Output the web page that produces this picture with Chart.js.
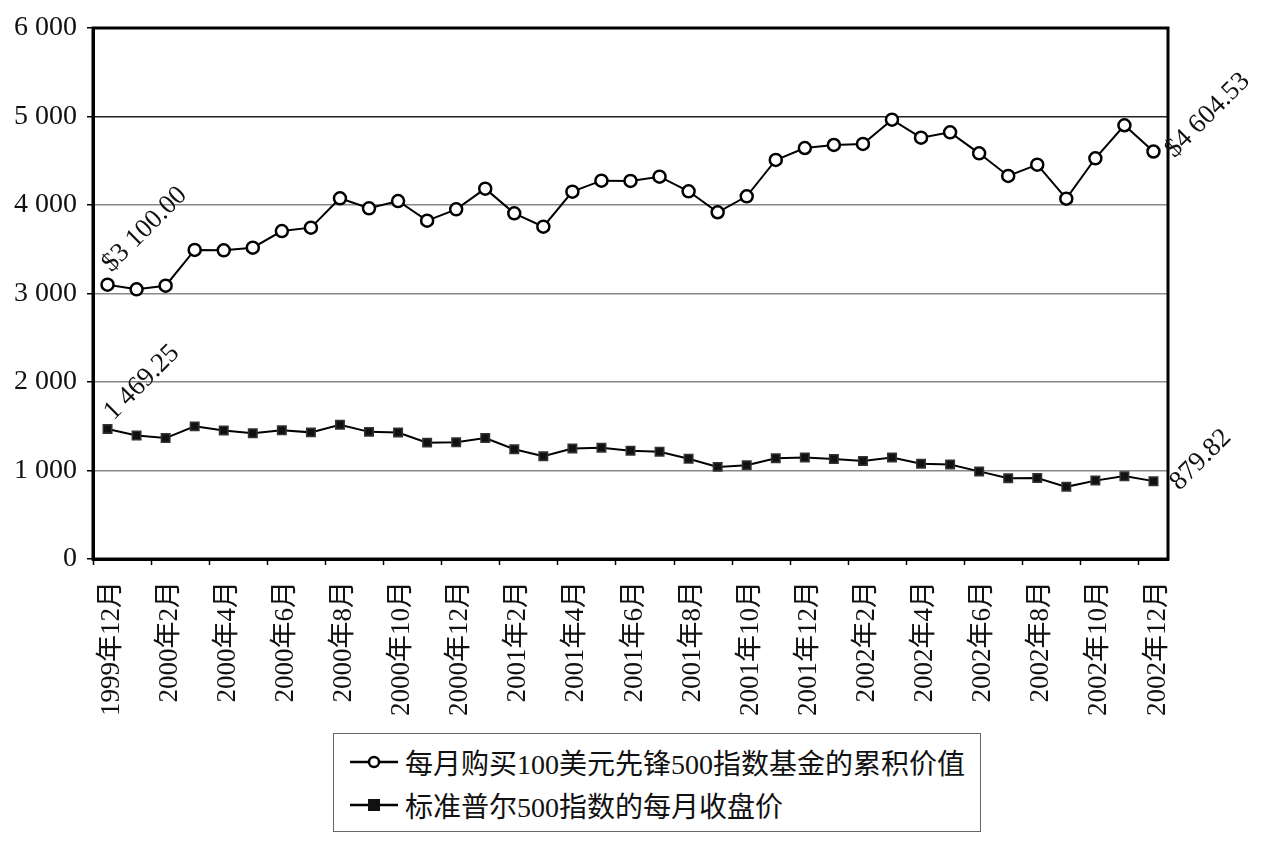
<!DOCTYPE html>
<html>
<head>
<meta charset="utf-8">
<script src="https://cdn.jsdelivr.net/npm/chart.js@4"></script>
<style>
  body { margin: 0; background: #fff; }
  #wrap { position: relative; width: 1267px; height: 842px; }
  #legendBox {
    position: absolute; left: 333px; top: 733px; width: 646px; height: 97px;
    border: 1px solid #666; background: #fff;
    font-family: "Liberation Serif", "Noto Sans CJK SC", serif; font-size: 28px; color: #111;
  }
  .row { position: absolute; left: 14px; height: 34px; display: flex; align-items: center; white-space: nowrap; }
  .row svg { margin-right: 5px; }
</style>
</head>
<body>
<div id="wrap">
  <canvas id="chart" width="1267" height="842"></canvas>
  <div id="legendBox">
    <div class="row" style="top:11px">
      <svg width="52" height="20"><line x1="2" y1="10" x2="50" y2="10" stroke="#000" stroke-width="2.5"/><circle cx="26" cy="10" r="5" fill="#fff" stroke="#000" stroke-width="2.5"/></svg>
      <span>每月购买100美元先锋500指数基金的累积价值</span>
    </div>
    <div class="row" style="top:54px">
      <svg width="52" height="20"><line x1="2" y1="10" x2="50" y2="10" stroke="#000" stroke-width="2.5"/><rect x="20" y="4" width="12" height="12" fill="#111"/></svg>
      <span>标准普尔500指数的每月收盘价</span>
    </div>
  </div>
</div>
<script>
const months = [
  "1999年12月",
  "2000年1月", "2000年2月", "2000年3月", "2000年4月", "2000年5月", "2000年6月",
  "2000年7月", "2000年8月", "2000年9月", "2000年10月", "2000年11月", "2000年12月",
  "2001年1月", "2001年2月", "2001年3月", "2001年4月", "2001年5月", "2001年6月",
  "2001年7月", "2001年8月", "2001年9月", "2001年10月", "2001年11月", "2001年12月",
  "2002年1月", "2002年2月", "2002年3月", "2002年4月", "2002年5月", "2002年6月",
  "2002年7月", "2002年8月", "2002年9月", "2002年10月", "2002年11月", "2002年12月",
];

// accumulated value of buying $100/month of the fund
const fundValues = [
  3100.00, 3047, 3088, 3492, 3488, 3518, 3706, 3744, 4076, 3963, 4045, 3823, 3951,
  4185, 3906, 3755, 4151, 4275, 4272, 4320, 4155, 3918, 4098, 4509, 4644,
  4678, 4690, 4964, 4761, 4821, 4584, 4328, 4456, 4072, 4528, 4901, 4604.53,
];

// S&P 500 monthly close
const spClose = [
  1469.25, 1394.46, 1366.42, 1498.58, 1452.43, 1420.60, 1454.60, 1430.83, 1517.68,
  1436.51, 1429.40, 1314.95, 1320.28, 1366.01, 1239.94, 1160.33, 1249.46, 1255.82,
  1224.42, 1211.23, 1133.58, 1040.94, 1059.78, 1139.45, 1148.08, 1130.20, 1106.73,
  1147.39, 1076.92, 1067.14, 989.82, 911.62, 916.07, 815.28, 885.76, 936.31, 879.82,
];

const yTicks = [0, 1000, 2000, 3000, 4000, 5000, 6000];

// end labels: [dataset, index, text, dx, dy]
const endLabels = [
  [0, 0, "$3 100.00", 4, -12],
  [1, 0, "1 469.25", 6, -8],
  [0, 36, "$4 604.53", 21, 7],
  [1, 36, "879.82", 26, 10],
];

const SERIF = '"Liberation Serif", "Noto Sans CJK SC", serif';
const fmt = v => String(v).replace(/\B(?=(\d{3})+(?!\d))/g, " ");

const frameAndLabels = {
  id: "frameAndLabels",
  afterDatasetsDraw(chart) {
    const ctx = chart.ctx;
    const a = chart.chartArea;
    ctx.save();
    ctx.strokeStyle = "#000";
    ctx.lineWidth = 3;
    ctx.strokeRect(a.left, a.top, a.right - a.left, a.bottom - a.top);

    ctx.fillStyle = "#111";
    ctx.font = `27px ${SERIF}`;
    ctx.textAlign = "left";
    ctx.textBaseline = "alphabetic";
    endLabels.forEach(([ds, i, text, dx, dy]) => {
      const pt = chart.getDatasetMeta(ds).data[i];
      ctx.save();
      ctx.translate(pt.x + dx, pt.y + dy);
      ctx.rotate(-Math.PI / 4);
      ctx.fillText(text, 0, 0);
      ctx.restore();
    });
    ctx.restore();
  },
};

function initializeChart(ctx) {
  return new Chart(ctx, {
    type: "line",
    data: {
      labels: months,
      datasets: [
        {
          label: "每月购买100美元先锋500指数基金的累积价值",
          data: fundValues,
          borderColor: "#000",
          borderWidth: 2,
          pointStyle: "circle",
          pointRadius: 6,
          pointBackgroundColor: "#fff",
          pointBorderColor: "#000",
          pointBorderWidth: 2.5,
          tension: 0,
        },
        {
          label: "标准普尔500指数的每月收盘价",
          data: spClose,
          borderColor: "#000",
          borderWidth: 2,
          pointStyle: "rect",
          pointRadius: 6,
          pointBackgroundColor: "#111",
          pointBorderColor: "#333",
          pointBorderWidth: 1.5,
          tension: 0,
        },
      ],
    },
    options: {
      responsive: false,
      animation: false,
      layout: { padding: { top: 28, right: 99, left: 0, bottom: 0 } },
      scales: {
        x: {
          offset: true,
          afterFit: scale => { scale.height = 283; },
          border: { display: true, color: "#000", width: 3 },
          grid: {
            offset: true,
            drawOnChartArea: false,
            tickLength: 6,
            tickWidth: 1.5,
            tickColor: c => (c.index % 2 === 0 ? "#000" : "rgba(0,0,0,0)"),
            color: c => (c.index % 2 === 0 ? "#000" : "rgba(0,0,0,0)"),
          },
          ticks: {
            autoSkip: false,
            minRotation: 90,
            maxRotation: 90,
            padding: 16,
            labelOffset: 4,
            color: "#111",
            font: { family: SERIF, size: 27 },
            callback: (v, i) => (i % 2 === 0 ? months[i] : ""),
          },
        },
        y: {
          min: 0,
          max: 6000,
          afterFit: scale => { scale.width = 93; },
          afterBuildTicks: scale => { scale.ticks = yTicks.map(v => ({ value: v })); },
          border: { display: true, color: "#000", width: 3 },
          grid: {
            color: c => (c.tick && c.tick.value === 5000 ? "#222" : "#888"),
            lineWidth: 1.5,
            tickLength: 6,
            tickColor: "#000",
          },
          ticks: {
            padding: 10,
            color: "#111",
            font: { family: SERIF, size: 28 },
            callback: v => fmt(v),
          },
        },
      },
      plugins: {
        legend: { display: false },
        tooltip: { enabled: false },
      },
    },
    plugins: [frameAndLabels],
  });
}

initializeChart(document.getElementById("chart").getContext("2d"));
</script>
</body>
</html>
